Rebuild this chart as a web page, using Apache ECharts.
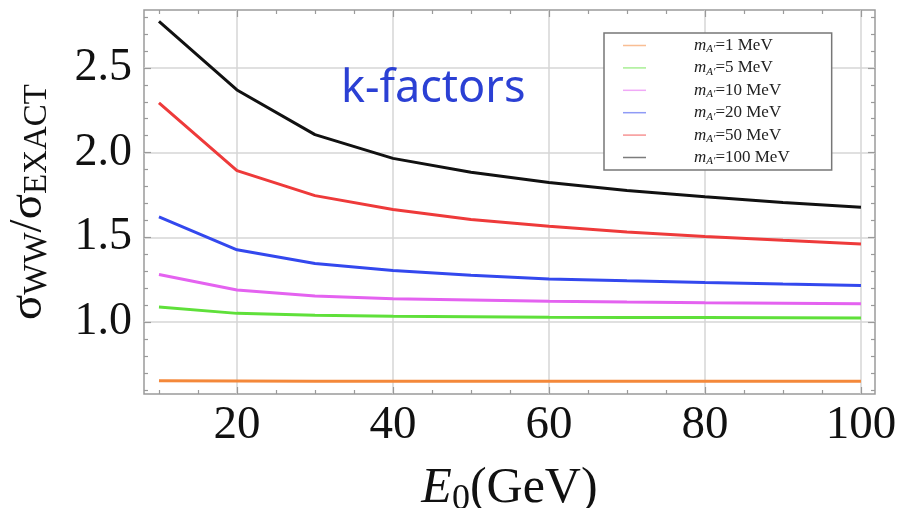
<!DOCTYPE html>
<html><head><meta charset="utf-8">
<script src="https://cdn.jsdelivr.net/npm/echarts@6/dist/echarts.min.js"></script>
<style>html,body{margin:0;padding:0;background:#fff}#c{width:903px;height:508px}</style>
</head><body><div id="c"></div>
<script>
const energies = [10, 20, 30, 40, 50, 60, 70, 80, 90, 100];
const masses = [1, 5, 10, 20, 50, 100];
const k1   = [0.653, 0.652, 0.651, 0.651, 0.651, 0.651, 0.650, 0.650, 0.650, 0.650];
const k5   = [1.088, 1.051, 1.040, 1.034, 1.031, 1.028, 1.027, 1.026, 1.025, 1.024];
const k10  = [1.281, 1.189, 1.153, 1.137, 1.130, 1.123, 1.118, 1.114, 1.111, 1.108];
const k20  = [1.620, 1.426, 1.345, 1.304, 1.276, 1.254, 1.243, 1.233, 1.224, 1.216];
const k50  = [2.294, 1.894, 1.746, 1.664, 1.605, 1.565, 1.532, 1.505, 1.482, 1.461];
const k100 = [2.775, 2.370, 2.106, 1.966, 1.884, 1.823, 1.776, 1.740, 1.705, 1.678];
const colors = ['#f4883a', '#5fe03a', '#e462f0', '#3348ee', '#ee3a3a', '#111111'];

const xMajorTicks = [20, 40, 60, 80, 100];
const xMinorTicks = [10, 15, 25, 30, 35, 45, 50, 55, 65, 70, 75, 85, 90, 95];
const xGridLines = [20, 40, 60, 80, 100];
const yMajorTicks = [1.0, 1.5, 2.0, 2.5];
const yMinorTicks = [0.6, 0.7, 0.8, 0.9, 1.1, 1.2, 1.3, 1.4, 1.6, 1.7, 1.8, 1.9, 2.1, 2.2, 2.3, 2.4, 2.6, 2.7, 2.8];
const yGridLines = [1.0, 1.5, 2.0, 2.5];

const X_MIN = 8.08, X_MAX = 101.8, Y_MIN = 0.575, Y_MAX = 2.842;
const allK = [k1, k5, k10, k20, k50, k100];

const SERIF = '"Liberation Serif", "DejaVu Serif", serif';
const frameColor = '#9a9a9a';
const gridColor = '#d6d6d6';

function xAx(position, ticks, len, opts) {
  return Object.assign({
    type: 'value', position: position, min: X_MIN, max: X_MAX,
    axisLine: { show: false },
    axisTick: { show: true, inside: true, length: len, customValues: ticks, lineStyle: { color: frameColor, width: 1.2 } },
    axisLabel: { show: false },
    splitLine: { show: false }
  }, opts || {});
}
function yAx(position, ticks, len, opts) {
  return Object.assign({
    type: 'value', position: position, min: Y_MIN, max: Y_MAX,
    axisLine: { show: false },
    axisTick: { show: true, inside: true, length: len, customValues: ticks, lineStyle: { color: frameColor, width: 1.2 } },
    axisLabel: { show: false },
    splitLine: { show: false }
  }, opts || {});
}

const xAxes = [
  xAx('bottom', xMajorTicks, 7, {
    axisLabel: { show: true, customValues: xMajorTicks, margin: 8, fontFamily: SERIF, fontSize: 47, color: '#111' },
    name: '{i|E}{s|0}{t|(GeV)}', nameLocation: 'middle', nameGap: 66,
    nameTextStyle: { rich: {
      i: { fontFamily: SERIF, fontSize: 50, fontStyle: 'italic', color: '#111' },
      s: { fontFamily: SERIF, fontSize: 36, color: '#111', padding: [22, 0, 0, 0] },
      t: { fontFamily: SERIF, fontSize: 50, color: '#111' }
    } }
  }),
  xAx('bottom', xMinorTicks, 4),
  xAx('top', xMajorTicks, 7),
  xAx('top', xMinorTicks, 4),
  xAx('bottom', xGridLines, 0, { axisTick: { show: false, customValues: xGridLines }, splitLine: { show: true, lineStyle: { color: gridColor, width: 1.5 } } })
];
const yAxes = [
  yAx('left', yMajorTicks, 7, {
    axisLabel: { show: true, customValues: yMajorTicks, margin: 12, fontFamily: SERIF, fontSize: 46, color: '#111', formatter: v => v.toFixed(1) },
    name: '{s|σ}{b|WW}{s|/σ}{b|EXACT}', nameLocation: 'middle', nameGap: 90, nameRotate: 90,
    nameTextStyle: { rich: {
      s: { fontFamily: SERIF, fontSize: 47, color: '#111' },
      b: { fontFamily: SERIF, fontSize: 33, color: '#111', padding: [18, 0, 0, 0] }
    } }
  }),
  yAx('left', yMinorTicks, 4),
  yAx('right', yMajorTicks, 7),
  yAx('right', yMinorTicks, 4),
  yAx('left', yGridLines, 0, { axisTick: { show: false, customValues: yGridLines }, splitLine: { show: true, lineStyle: { color: gridColor, width: 1.5 } } })
];

const series = masses.map((m, i) => ({
  name: 'mA′=' + m + ' MeV',
  type: 'line',
  xAxisIndex: 0, yAxisIndex: 0,
  data: energies.map((e, j) => [e, allK[i][j]]),
  showSymbol: false, symbol: 'none',
  lineStyle: { color: colors[i], width: 3 },
  itemStyle: { color: colors[i] },
  z: 3 + i
}));

const chart = echarts.init(document.getElementById('c'), null, { renderer: 'canvas' });
chart.setOption({
  animation: false,
  backgroundColor: '#fff',
  title: {
    text: 'k-factors', left: 336, top: 62,
    textStyle: { fontFamily: '"Noto Sans", sans-serif', fontSize: 45, fontWeight: 'normal', color: '#2b40d4' }
  },
  grid: { left: 144, top: 10, right: 28, bottom: 114, show: true, borderColor: frameColor, borderWidth: 1.5, backgroundColor: 'transparent', containLabel: false, outerBoundsMode: 'none' },
  legend: {
    left: 604, top: 33, orient: 'vertical',
    backgroundColor: '#fff', borderColor: '#777', borderWidth: 1.5,
    padding: [4, 42, 3, 19], itemGap: 4.4,
    icon: 'rect', itemWidth: 23, itemHeight: 1.5,
    itemStyle: { opacity: 0.55 },
    data: series.map(s => s.name),
    formatter: name => '{sp| }{m|m}{a|A′}{t|' + name.slice(3) + '}',
    textStyle: { lineHeight: 17, rich: {
      sp: { width: 43 },
      m: { fontFamily: SERIF, fontSize: 17, fontStyle: 'italic', color: '#222' },
      a: { fontFamily: SERIF, fontSize: 11, fontStyle: 'italic', color: '#222', padding: [8, 0, 0, 0] },
      t: { fontFamily: SERIF, fontSize: 17, color: '#222' }
    } }
  },
  xAxis: xAxes,
  yAxis: yAxes,
  series: series
});
</script>
</body></html>
